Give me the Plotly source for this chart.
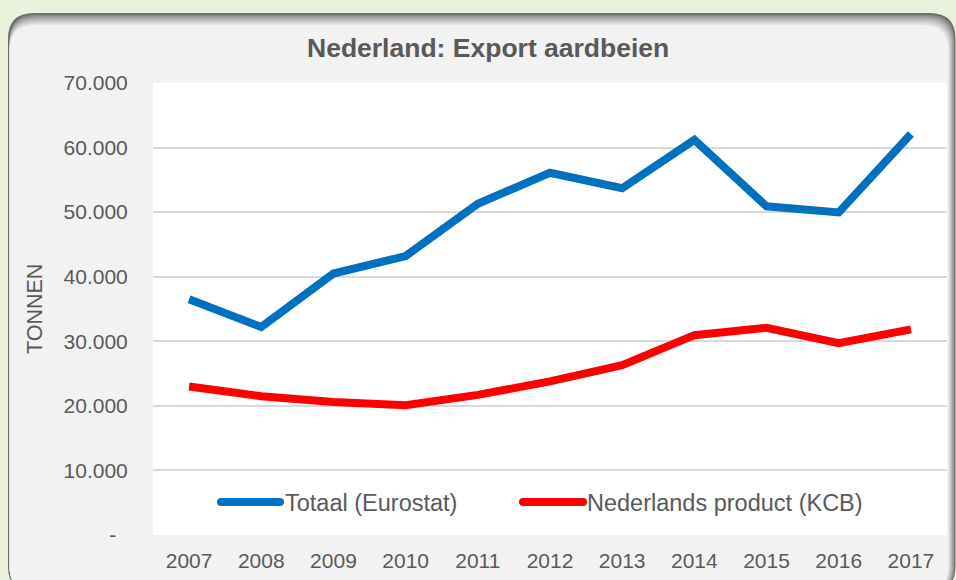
import plotly.graph_objects as go

# ---------------- data ----------------
years = [2007, 2008, 2009, 2010, 2011, 2012, 2013, 2014, 2015, 2016, 2017]
totaal_eurostat = [36500, 32200, 40500, 43200, 51300, 56100, 53700, 61200, 50900, 49950, 62100]
nederlands_kcb = [23000, 21500, 20600, 20100, 21700, 23800, 26300, 30950, 32100, 29700, 31850]
series_names = ["Totaal (Eurostat)", "Nederlands product (KCB)"]
series_colors = ["#0070C0", "#FF0000"]
y_tick_values = [0, 10000, 20000, 30000, 40000, 50000, 60000, 70000]
y_tick_labels = ["-\u00a0\u00a0", "10.000", "20.000", "30.000", "40.000", "50.000", "60.000", "70.000"]
x_tick_labels = [str(y) for y in years]
title_text = "Nederland: Export aardbeien"
y_title = "TONNEN"

# ---------------- geometry ----------------
W, H = 956, 580
L, R, T, B = 153, 9, 83, 45
PW, PH = W - L - R, H - T - B
TEXT = "#595959"
FONT = "Liberation Sans, Arial, sans-serif"


def px(x):
    return (x - L) / PW


def py(y):
    return (H - B - y) / PH


def rrect(x0, y0, x1, y1, r):
    pts = [
        f"M {px(x0 + r)},{py(y0)}",
        f"L {px(x1 - r)},{py(y0)}",
        f"Q {px(x1)},{py(y0)} {px(x1)},{py(y0 + r)}",
        f"L {px(x1)},{py(y1 - r)}",
        f"Q {px(x1)},{py(y1)} {px(x1 - r)},{py(y1)}",
        f"L {px(x0 + r)},{py(y1)}",
        f"Q {px(x0)},{py(y1)} {px(x0)},{py(y1 - r)}",
        f"L {px(x0)},{py(y0 + r)}",
        f"Q {px(x0)},{py(y0)} {px(x0 + r)},{py(y0)}",
        "Z",
    ]
    return " ".join(pts)


def mix(c0, c1, t):
    a = [int(c0[i:i + 2], 16) for i in (1, 3, 5)]
    b = [int(c1[i:i + 2], 16) for i in (1, 3, 5)]
    return "#" + "".join(f"{round(a[i] + (b[i] - a[i]) * t):02x}" for i in range(3))


shapes = []
# outer box with soft top/right shadow
n = 9
for k in range(n):
    t = k / (n - 1)
    col = mix("#6b6b6b", "#F2F2F2", t ** 0.8)
    x0 = 8 if k == 0 else 9.5
    shapes.append(dict(type="path", xref="paper", yref="paper", layer="below",
                       path=rrect(x0, 13 + k * 1.5, 955.5 - k * 0.9, 592, 26),
                       fillcolor=col, line=dict(width=0)))
# white plot area
shapes.append(dict(type="rect", xref="paper", yref="paper", layer="below",
                   x0=0, x1=1, y0=0, y1=1, fillcolor="#FFFFFF", line=dict(width=0)))

fig = go.Figure()
for name, vals, col in zip(series_names, [totaal_eurostat, nederlands_kcb], series_colors):
    fig.add_trace(go.Scatter(x=years, y=vals, mode="lines", name=name,
                             line=dict(color=col, width=8), showlegend=False))

annotations = [
    dict(text=f"<b>{title_text}</b>", x=px(488), y=py(48), xref="paper", yref="paper",
         xanchor="center", yanchor="middle", showarrow=False,
         font=dict(family=FONT, size=26.5, color=TEXT)),
    dict(text=y_title, x=px(35), y=py(309), xref="paper", yref="paper", textangle=-90,
         xanchor="center", yanchor="middle", showarrow=False,
         font=dict(family=FONT, size=21.5, color=TEXT)),
]

# manual legend (long line samples)
legend_pos = [(221, 280, 283), (523, 583, 585)]
ly = 502
for (a, b, tx), name, col in zip(legend_pos, series_names, series_colors):
    shapes.append(dict(type="line", xref="paper", yref="paper", x0=px(a), x1=px(b),
                       y0=py(ly), y1=py(ly), line=dict(color=col, width=8)))
    for cx in (a, b):
        shapes.append(dict(type="circle", xref="paper", yref="paper",
                           x0=px(cx - 4), x1=px(cx + 4), y0=py(ly + 4), y1=py(ly - 4),
                           fillcolor=col, line=dict(width=0)))
    annotations.append(dict(text=name, x=px(tx), y=py(ly + 1), xref="paper", yref="paper",
                            xanchor="left", yanchor="middle", showarrow=False,
                            font=dict(family=FONT, size=23.5, color=TEXT)))

fig.update_layout(
    width=W, height=H,
    margin=dict(l=L, r=R, t=T, b=B, pad=0),
    paper_bgcolor="#EAF1DD",
    plot_bgcolor="rgba(0,0,0,0)",
    showlegend=False,
    shapes=shapes,
    annotations=annotations,
    font=dict(family=FONT, color=TEXT),
    xaxis=dict(range=[years[0] - 0.5, years[-1] + 0.5], tickvals=years, ticktext=x_tick_labels,
               showgrid=False, zeroline=False, showline=False, ticks="outside",
               ticklen=7, tickcolor="rgba(0,0,0,0)", automargin=False,
               tickfont=dict(family=FONT, size=21, color=TEXT), fixedrange=True),
    yaxis=dict(range=[0, 70000], tickvals=y_tick_values, ticktext=y_tick_labels,
               showgrid=True, gridcolor="#D9D9D9", gridwidth=1.5, zeroline=False,
               showline=False, ticks="outside", ticklen=20, tickcolor="rgba(0,0,0,0)",
               automargin=False,
               tickfont=dict(family=FONT, size=21, color=TEXT), fixedrange=True),
)

fig.write_html("out.html", config={"displayModeBar": False},
               post_script="document.body.style.margin='0';document.body.style.overflow='hidden';")
